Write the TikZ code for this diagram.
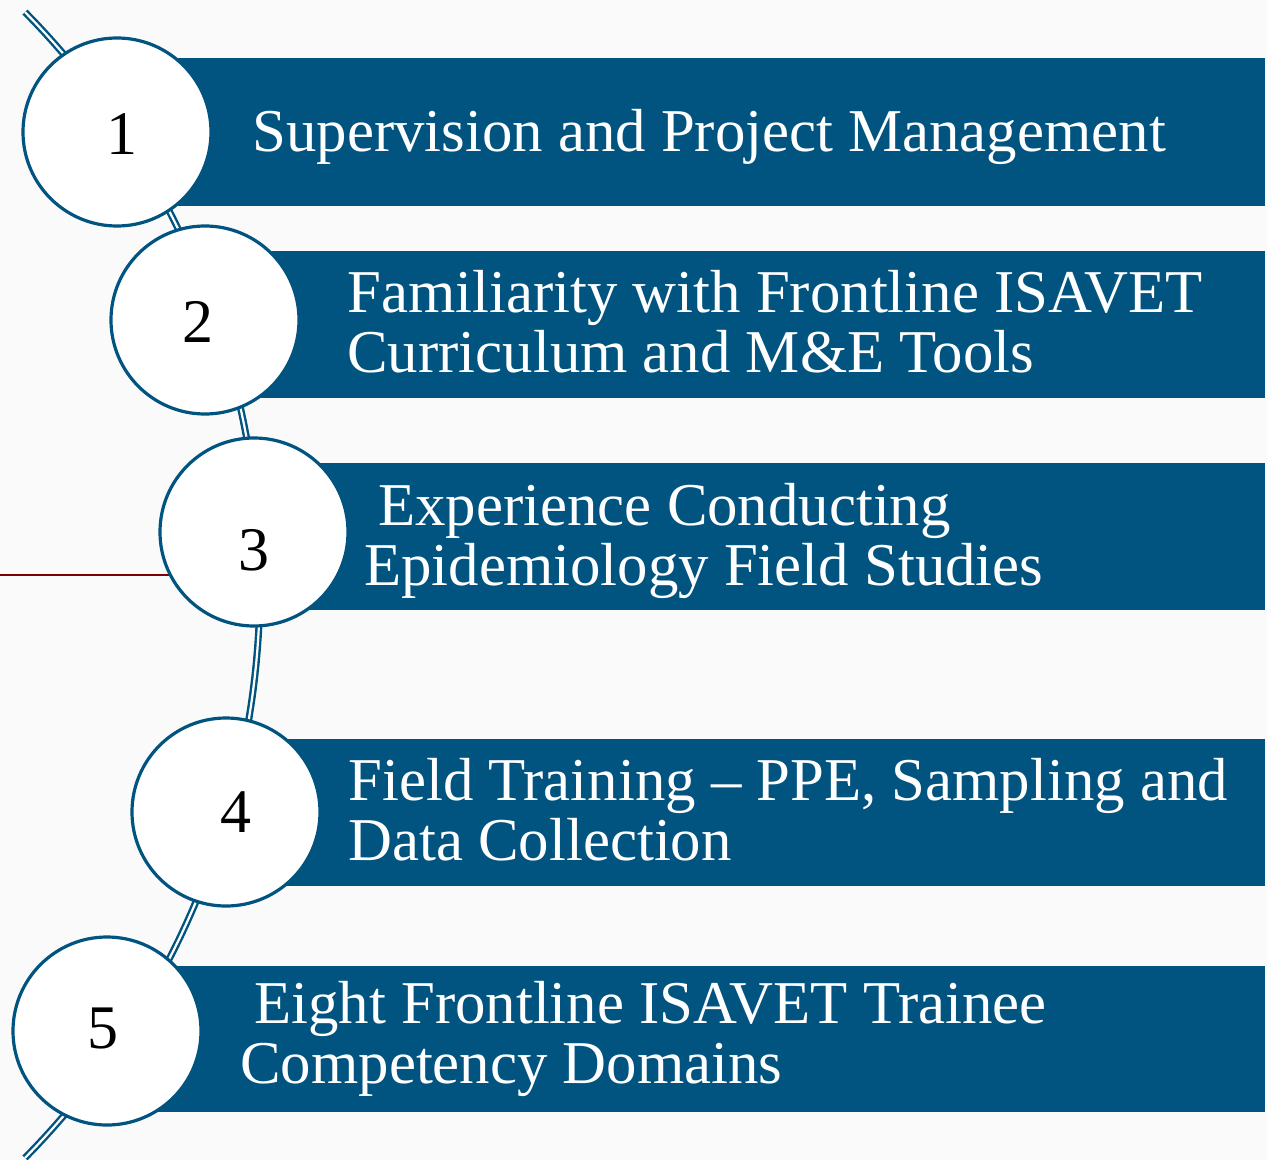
\documentclass[tikz,border=0pt]{standalone}
\usepackage{fontspec}
\setmainfont{Liberation Serif}
\definecolor{barblue}{RGB}{1,84,128}
\definecolor{linered}{RGB}{128,0,0}
\tikzset{
  bar/.style={fill=barblue},
  numcircle/.style={circle, draw=barblue, line width=1.6pt, fill=white, minimum size=94pt, inner sep=0pt},
  numtext/.style={text=black, inner sep=0pt, font=\fontsize{31}{31}\selectfont},
  bartext/.style={text=white, inner sep=0pt, anchor=base west, align=left, font=\fontsize{30.4}{30}\selectfont},
}

\begin{document}
\begin{tikzpicture}[x=0.5pt,y=-0.5pt]
	\fill[black!2] (0,0) rectangle (1267,1160);
	\useasboundingbox (0,0) rectangle (1267,1160);
	
	% centres of the step circles
	\coordinate (m1) at (117,132);
	\coordinate (m2) at (205,320);
	\coordinate (m3) at (254,532);
	\coordinate (m4) at (226,812);
	\coordinate (m5) at (107,1031);
	
	% backbone
	\draw[barblue, line width=1.2pt, double=white, double distance=1.1pt]
		plot[domain=44.6:-44.6, samples=90] ({-556+816*cos(\x)},{585-816*sin(\x)});
	
	\coordinate (redstart) at (0,575);
	\draw[linered, line width=1.1pt] (redstart) -- (redstart -| m3);
	
	% bars
	\fill[bar] (117,58) rectangle (1265,206);
	\fill[bar] (205,251) rectangle (1265,398);
	\fill[bar] (254,463) rectangle (1265,610);
	\fill[bar] (226,739) rectangle (1265,886);
	\fill[bar] (107,966) rectangle (1265,1112);
	
	% circles
	\node[numcircle] (c1) at (m1) {};
	\node[numcircle] (c2) at (m2) {};
	\node[numcircle] (c3) at (m3) {};
	\node[numcircle] (c4) at (m4) {};
	\node[numcircle] (c5) at (m5) {};
	
	\node[numtext] (n1) at (122,134) {1};
	\node[numtext] (n2) at (198,322) {2};
	\node[numtext] (n3) at (254,550) {3};
	\node[numtext] (n4) at (236,812) {4};
	\node[numtext] (n5) at (103,1028) {5};
	
	% texts (base = last line)
	\node[bartext] (t1) at (252,152) {Supervision and Project Management};
	\node[bartext] (t2) at (347,372) {Familiarity with Frontline ISAVET\\Curriculum and M\&E Tools};
	\node[bartext] (t3) at (364,585) {\hspace*{7pt}Experience Conducting\\Epidemiology Field Studies};
	\node[bartext] (t4) at (348,860) {Field Training – PPE, Sampling and\\Data Collection};
	\node[bartext] (t5) at (240,1083) {\hspace*{7pt}Eight Frontline ISAVET Trainee\\Competency Domains};
\end{tikzpicture}
\end{document}
